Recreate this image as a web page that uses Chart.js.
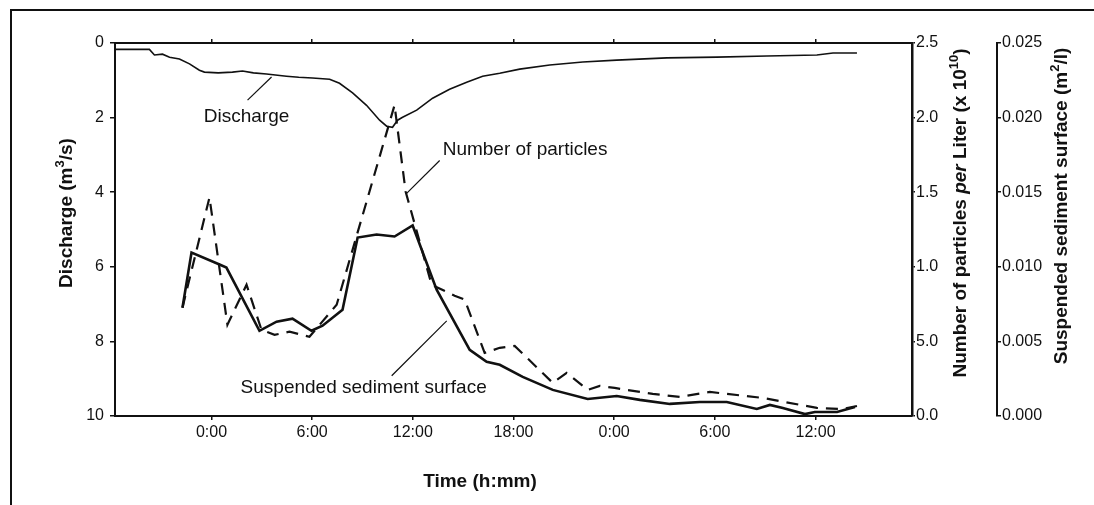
<!DOCTYPE html>
<html lang="en">
<head>
<meta charset="UTF-8">
<title>Discharge, particles and suspended sediment</title>
<script src="https://cdn.jsdelivr.net/npm/chart.js"></script>
<style>
  body { margin: 0; background: #fff; }
  canvas { display: block; }
</style>
</head>
<body>
<canvas id="chart" width="1094" height="505"></canvas>
<script>
// time is in hours after 0:00 of the first day
const dischargeHours = [-5.75, -3.70, -3.40, -2.92, -2.50, -1.91, -1.31, -0.72, -0.42, 0.40, 1.25, 1.85, 2.50, 3.28, 4.47, 5.20, 6.02, 7.04, 7.63, 8.41, 9.24, 10.02, 10.44, 10.79, 11.09, 11.39, 12.23, 13.18, 14.19, 15.21, 16.16, 17.18, 18.37, 20.16, 22.13, 24.15, 27.14, 30.12, 33.10, 36.08, 37.04, 38.47];
const dischargeValues = [0.17, 0.17, 0.32, 0.30, 0.38, 0.43, 0.56, 0.73, 0.78, 0.80, 0.78, 0.75, 0.80, 0.83, 0.89, 0.92, 0.94, 0.97, 1.08, 1.34, 1.67, 2.07, 2.23, 2.26, 2.07, 1.99, 1.80, 1.48, 1.24, 1.05, 0.89, 0.81, 0.70, 0.59, 0.51, 0.46, 0.40, 0.38, 0.35, 0.32, 0.27, 0.27];

// particles per liter, x 10^10
const particleHours = [-1.73, -0.12, 0.95, 2.09, 2.98, 3.76, 4.65, 5.84, 7.46, 10.91, 11.57, 13.12, 14.49, 15.09, 16.28, 17.18, 18.07, 20.34, 21.17, 22.42, 23.14, 24.03, 26.30, 27.91, 29.70, 32.86, 36.08, 37.63, 38.47];
const particleValues = [0.726, 1.465, 0.612, 0.880, 0.578, 0.544, 0.565, 0.531, 0.746, 2.083, 1.505, 0.880, 0.806, 0.780, 0.423, 0.457, 0.470, 0.222, 0.289, 0.175, 0.202, 0.188, 0.148, 0.128, 0.161, 0.121, 0.054, 0.047, 0.067];

// suspended sediment surface, m2/l
const sedimentHours = [-1.73, -1.19, 0.48, 0.89, 2.86, 3.88, 4.83, 5.96, 6.62, 7.81, 8.71, 9.84, 10.91, 11.99, 13.42, 15.39, 16.40, 17.18, 18.55, 20.34, 22.42, 24.15, 25.53, 27.32, 29.10, 30.71, 32.50, 33.28, 34.05, 35.37, 35.96, 37.28, 38.35];
const sedimentValues = [0.00726, 0.01095, 0.01015, 0.00995, 0.00571, 0.00632, 0.00652, 0.00571, 0.00605, 0.00712, 0.01196, 0.01216, 0.01203, 0.01277, 0.00847, 0.00444, 0.00363, 0.00343, 0.00262, 0.00175, 0.00114, 0.00134, 0.00108, 0.00081, 0.00094, 0.00094, 0.00047, 0.00074, 0.00054, 0.00013, 0.00027, 0.00027, 0.00060];

const timeTicks = [0, 6, 12, 18, 24, 30, 36];
const timeLabels = ['0:00', '6:00', '12:00', '18:00', '0:00', '6:00', '12:00'];
const dischargeTicks = [0, 2, 4, 6, 8, 10];
const dischargeLabels = ['0', '2', '4', '6', '8', '10'];
const particleTicks = [0, 0.5, 1, 1.5, 2, 2.5];
const particleLabels = ['0.0', '5.0', '1.0', '1.5', '2.0', '2.5'];
const sedimentTicks = [0, 0.005, 0.01, 0.015, 0.02, 0.025];
const sedimentLabels = ['0.000', '0.005', '0.010', '0.015', '0.020', '0.025'];

// labels inside the plot, placed in (hours, discharge) units
const notes = [
  { text: 'Discharge', at: [2.09, 1.99], align: 'center', from: [2.15, 1.53], to: [3.58, 0.91] },
  { text: 'Number of particles', at: [13.78, 2.85], align: 'left', from: [11.63, 4.03], to: [13.6, 3.15] },
  { text: 'Suspended sediment surface', at: [9.07, 9.25], align: 'center', from: [10.74, 8.92], to: [14.02, 7.45] }
];

const FONT = "'Liberation Sans', Arial, Helvetica, sans-serif";
const INK = '#111';

const pairs = (xs, ys) => xs.map((x, i) => ({ x: x, y: ys[i] }));
const fixTicks = values => scale => { scale.ticks = values.map(v => ({ value: v })); };

// draws a title made of parts: [text, superscript?, italic?]
function drawRich(ctx, parts, cx, cy, rot) {
  const size = 19;
  ctx.save();
  ctx.translate(cx, cy);
  ctx.rotate(rot);
  ctx.textBaseline = 'middle';
  ctx.textAlign = 'left';
  ctx.fillStyle = INK;
  const fontFor = p => (p[2] ? 'italic ' : '') + 'bold ' + (p[1] ? 13 : size) + 'px ' + FONT;
  let total = 0;
  parts.forEach(p => { ctx.font = fontFor(p); total += ctx.measureText(p[0]).width; });
  let pos = -total / 2;
  parts.forEach(p => {
    ctx.font = fontFor(p);
    ctx.fillText(p[0], pos, p[1] ? -7 : 0);
    pos += ctx.measureText(p[0]).width;
  });
  ctx.restore();
}

const decor = {
  id: 'decor',
  afterDraw(chart) {
    const ctx = chart.ctx;
    const sx = chart.scales.x, sy = chart.scales.y;
    ctx.save();
    // figure frame (top and left only)
    ctx.strokeStyle = INK;
    ctx.lineWidth = 2;
    ctx.beginPath();
    ctx.moveTo(11, 505);
    ctx.lineTo(11, 10);
    ctx.lineTo(1094, 10);
    ctx.stroke();

    ctx.lineWidth = 1.2;
    ctx.font = '19px ' + FONT;
    ctx.fillStyle = INK;
    ctx.textBaseline = 'middle';
    notes.forEach(n => {
      ctx.beginPath();
      ctx.moveTo(sx.getPixelForValue(n.from[0]), sy.getPixelForValue(n.from[1]));
      ctx.lineTo(sx.getPixelForValue(n.to[0]), sy.getPixelForValue(n.to[1]));
      ctx.stroke();
      ctx.textAlign = n.align;
      ctx.fillText(n.text, sx.getPixelForValue(n.at[0]), sy.getPixelForValue(n.at[1]));
    });
    ctx.restore();

    drawRich(ctx, [['Time (h:mm)']], 480, 482, 0);
    drawRich(ctx, [['Discharge (m'], ['3', 1], ['/s)']], 67, 213, -Math.PI / 2);
    drawRich(ctx, [['Number of particles '], ['per', 0, 1], [' Liter (x 10'], ['10', 1], [')']], 961, 213, -Math.PI / 2);
    drawRich(ctx, [['Suspended sediment surface (m'], ['2', 1], ['/l)']], 1062, 206, -Math.PI / 2);
  }
};

const tickFont = { family: FONT, size: 16 };
const grid = len => ({ drawOnChartArea: false, tickLength: len, color: INK, lineWidth: 1.5 });
const border = w => ({ display: true, color: INK, width: w });

new Chart(document.getElementById('chart'), {
  type: 'line',
  data: {
    datasets: [
      { label: 'Discharge', data: pairs(dischargeHours, dischargeValues), yAxisID: 'y',
        borderColor: INK, borderWidth: 1.6, pointRadius: 0, tension: 0 },
      { label: 'Number of particles', data: pairs(particleHours, particleValues), yAxisID: 'y1',
        borderColor: INK, borderWidth: 2.2, borderDash: [12, 8], pointRadius: 0, tension: 0 },
      { label: 'Suspended sediment surface', data: pairs(sedimentHours, sedimentValues), yAxisID: 'y2',
        borderColor: INK, borderWidth: 2.6, pointRadius: 0, tension: 0 }
    ]
  },
  options: {
    responsive: false,
    animation: false,
    layout: { padding: 0 },
    plugins: { legend: { display: false }, tooltip: { enabled: false } },
    scales: {
      x: {
        type: 'linear', position: 'bottom', min: -5.75, max: 41.75,
        afterBuildTicks: fixTicks(timeTicks),
        afterFit: s => { s.height = 89; },
        ticks: { callback: (v, i) => timeLabels[i], font: tickFont, color: INK, padding: 3, autoSkip: false, maxRotation: 0 },
        grid: grid(4), border: border(2)
      },
      xTop: {
        type: 'linear', position: 'top', min: -5.75, max: 41.75,
        afterBuildTicks: fixTicks(timeTicks),
        afterFit: s => { s.height = 43; },
        ticks: { callback: () => '', autoSkip: false, maxRotation: 0 },
        grid: grid(4), border: border(2)
      },
      y: {
        type: 'linear', position: 'left', min: 0, max: 10, reverse: true,
        afterBuildTicks: fixTicks(dischargeTicks),
        afterFit: s => { s.width = 115; },
        ticks: { callback: (v, i) => dischargeLabels[i], font: tickFont, color: INK, padding: 6 },
        grid: grid(5), border: border(2)
      },
      y1: {
        type: 'linear', position: 'right', weight: 0, min: 0, max: 2.5,
        afterBuildTicks: fixTicks(particleTicks),
        afterFit: s => { s.width = 85; },
        ticks: { callback: (v, i) => particleLabels[i], font: tickFont, color: INK, padding: 1 },
        grid: grid(3), border: border(2.5)
      },
      y2: {
        type: 'linear', position: 'right', weight: 1, min: 0, max: 0.025,
        afterBuildTicks: fixTicks(sedimentTicks),
        afterFit: s => { s.width = 97; },
        ticks: { callback: (v, i) => sedimentLabels[i], font: tickFont, color: INK, padding: 1 },
        grid: grid(4), border: border(2)
      }
    }
  },
  plugins: [decor]
});
</script>
</body>
</html>
